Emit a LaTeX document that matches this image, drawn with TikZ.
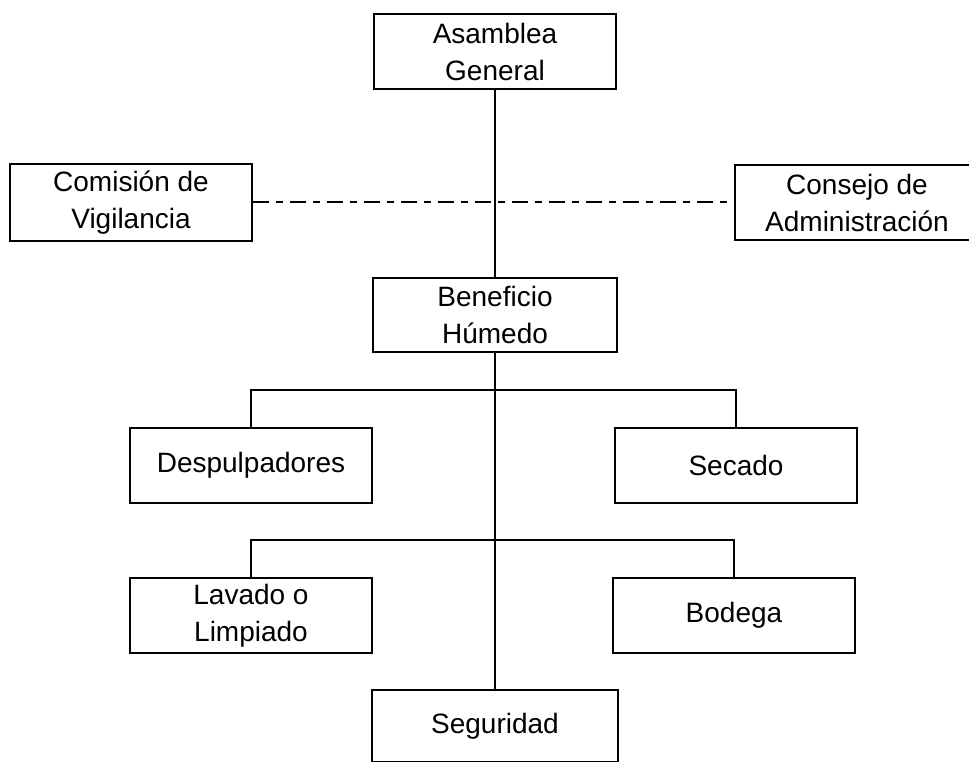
\documentclass[tikz,border=0pt]{standalone}
\usepackage{fontspec}
\setmainfont{Liberation Sans}
\usepackage{tikz}
\usetikzlibrary{positioning}
\tikzstyle{caja} = [rectangle, draw, line width=2pt, minimum width=242pt, minimum height=75pt, inner sep=0pt, align=center, font=\fontsize{28}{37}\selectfont]
\tikzstyle{linea} = [line width=2pt]
\tikzstyle{rayapunto} = [line width=2pt, dash pattern=on 16pt off 7pt on 7pt off 7pt]

\begin{document}
\begin{tikzpicture}[x=1pt, y=-1pt]
\useasboundingbox (0,0) rectangle (969,762);
\node [caja] (ag) at (495,51.5) {Asamblea\\General};
\node [caja, minimum height=77pt] (cv) at (131,202.5) {Comisión de\\Vigilancia};
\node [caja, minimum width=244pt] (ca) at (857,202.5) {Consejo de\\Administración};
\node [caja, minimum width=244pt, minimum height=74pt] (bh) at (495,315) {Beneficio\\Húmedo};
\node [caja] (desp) at (251,465.5) {Despulpadores};
\node [caja] (sec) at (736,465.5) {Secado};
\node [caja] (lav) at (251,615.5) {Lavado o\\Limpiado};
\node [caja] (bod) at (734,615.5) {Bodega};
\node [caja, minimum width=246pt, minimum height=72pt] (seg) at (495,726) {Seguridad};
\coordinate (ramaA) at (495,390);
\coordinate (ramaB) at (495,540);
\draw [linea] (ag) to (bh);
\draw [linea] (bh) to (seg);
\draw [rayapunto] (cv) to (ca);
\draw [linea] (desp) |- (ramaA) -| (sec);
\draw [linea] (lav) |- (ramaB) -| (bod);
\end{tikzpicture}
\end{document}
